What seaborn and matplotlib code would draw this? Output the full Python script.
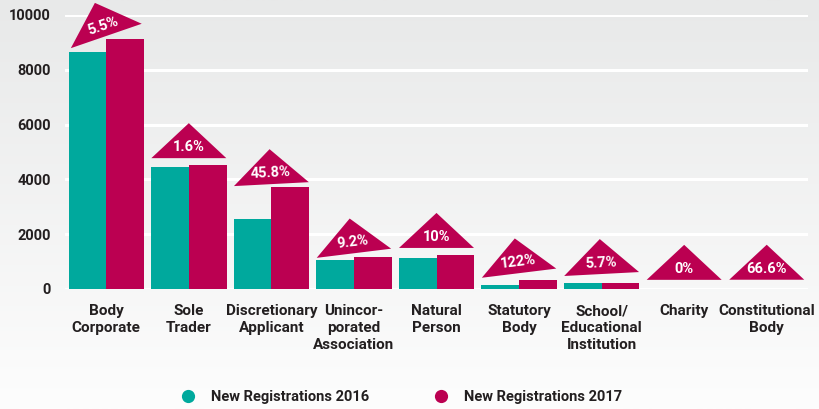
import numpy as np
import pandas as pd
import matplotlib
matplotlib.use("Agg")
import matplotlib.pyplot as plt
import seaborn as sns
from matplotlib.patches import Polygon
from matplotlib.lines import Line2D
from matplotlib.transforms import Affine2D, ScaledTranslation

# --- data ------------------------------------------------------------------
categories = [
    "Body\nCorporate", "Sole\nTrader", "Discretionary\nApplicant",
    "Unincor-\nporated\nAssociation", "Natural\nPerson", "Statutory\nBody",
    "School/\nEducational\nInstitution", "Charity", "Constitutional\nBody",
]
reg_2016 = [8650, 4450, 2550, 1060, 1130, 145, 218, 6, 6]
reg_2017 = [9125, 4520, 3718, 1158, 1243, 322, 206, 6, 10]
changes = ["5.5%", "1.6%", "45.8%", "9.2%", "10%", "122%", "5.7%", "0%", "66.6%"]
series = ["New Registrations 2016", "New Registrations 2017"]
y_ticks = [0, 2000, 4000, 6000, 8000, 10000]

# --- styling ----------------------------------------------------------------
TEAL = "#00a99d"
MAGENTA = "#bb0051"
INK = "#231f20"
tilt = [19, 0, 3, 7, 0, 7, 3, 0, 0]   # degrees each badge is tipped
lift = [3, 7, 3, 4, 7, 7, 9, 9, 9]    # px gap between badge and taller bar

sns.set_style("white")
plt.rcParams["font.family"] = ["Roboto", "DejaVu Sans"]
plt.rcParams["font.weight"] = "bold"

df = pd.DataFrame({
    "category": categories * 2,
    "series": [series[0]] * len(categories) + [series[1]] * len(categories),
    "value": reg_2016 + reg_2017,
})

fig = plt.figure(figsize=(8.19, 4.09), dpi=100)

# soft grey gradient background
bg = fig.add_axes([0, 0, 1, 1], zorder=-10)
grad = np.linspace(0, 1, 256).reshape(-1, 1)
bg.imshow(grad, aspect="auto", cmap=sns.blend_palette(["#e8e9e9", "#fdfdfd"], as_cmap=True),
          extent=[0, 1, 0, 1])
bg.axis("off")

ax = fig.add_axes([65 / 819, 1 - 289 / 409, 743 / 819, 274 / 409])
ax.patch.set_alpha(0)

sns.barplot(data=df, x="category", y="value", hue="series", order=categories,
            hue_order=series, palette=[TEAL, MAGENTA], saturation=1,
            width=0.915, gap=0, linewidth=0, legend=False, ax=ax)

# tiny bars in the original are drawn faintly / in a different tint
ax.containers[0][7].set_alpha(0.3)
ax.containers[1][7].set_alpha(0.3)
ax.containers[0][8].set_facecolor("#a4b43c")

ax.set_xlim(-0.5, len(categories) - 0.5)
ax.set_ylim(0, 10000)
ax.set_yticks(y_ticks)
ax.set_yticklabels([str(t) for t in y_ticks], fontsize=10.5, color=INK, fontweight="bold")
ax.set_xticks(range(len(categories)))
ax.set_xticklabels(categories, fontsize=11, color=INK, fontweight="bold", linespacing=1.28)
ax.tick_params(axis="y", length=0, pad=10)
ax.tick_params(axis="x", length=0, pad=11)
ax.set_xlabel("")
ax.set_ylabel("")
for s in ax.spines.values():
    s.set_visible(False)
ax.set_axisbelow(True)
ax.yaxis.grid(True, color="white", linewidth=2.2)
ax.xaxis.grid(False)

# percentage-change badges (triangles) above each group
for i, label in enumerate(changes):
    top = max(reg_2016[i], reg_2017[i])
    trans = (Affine2D().rotate_deg(tilt[i]).translate(0, lift[i])
             + ScaledTranslation(i, top, ax.transData))
    tri = Polygon([(-37.5, 0), (37.5, 0), (0, 35)], closed=True,
                  facecolor=MAGENTA, edgecolor="none", transform=trans, clip_on=False)
    ax.add_patch(tri)
    ax.text(0, 11, label, transform=trans, rotation=tilt[i], rotation_mode="anchor",
            ha="center", va="center", color="white", fontsize=10.5, fontweight="bold")

handles = [Line2D([], [], marker="o", linestyle="none", markersize=9.5,
                  markerfacecolor=c, markeredgecolor="none") for c in (TEAL, MAGENTA)]
leg = fig.legend(handles, series, loc="center", bbox_to_anchor=(0.49, 0.029), ncol=2,
                 frameon=False, handlelength=1.0, handletextpad=1.1, columnspacing=4.4,
                 prop={"weight": "bold", "size": 10.5})
for t in leg.get_texts():
    t.set_color(INK)

fig.savefig("out.png", dpi=100)
